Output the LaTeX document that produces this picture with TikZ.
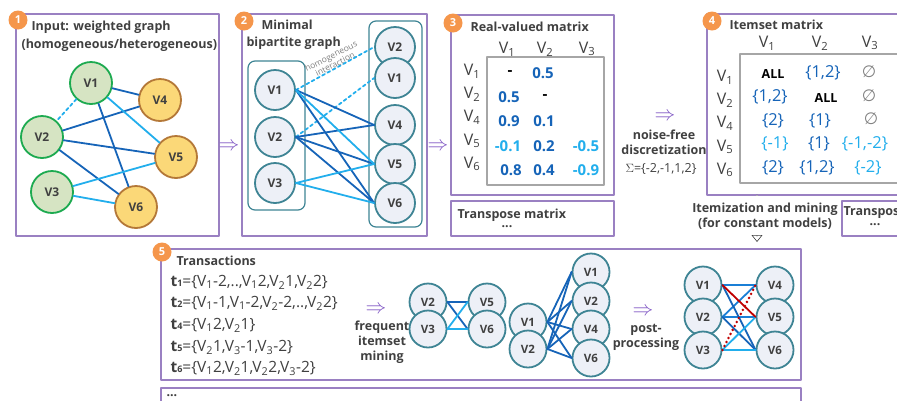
\documentclass[tikz,border=0pt]{standalone}
\usepackage{fontspec}
\setmainfont{Open Sans}
\newfontfamily\symfont{DejaVu Sans}
\usetikzlibrary{arrows.meta}

\definecolor{framepurple}{HTML}{9A80C2}
\definecolor{arrowpurple}{HTML}{8058C4}
\definecolor{badgeorange}{HTML}{F5964B}
\definecolor{textgray}{HTML}{404040}
\definecolor{greenfill}{HTML}{D6E4C3}
\definecolor{greenline}{HTML}{1DAA50}
\definecolor{yellowfill}{HTML}{FBD878}
\definecolor{brownline}{HTML}{B47838}
\definecolor{nodefill}{HTML}{EDF0F7}
\definecolor{nodeline}{HTML}{3E8494}
\definecolor{darkblue}{HTML}{1664B8}
\definecolor{midblue}{HTML}{1A7FD6}
\definecolor{lightblue}{HTML}{22AEEC}
\definecolor{darkred}{HTML}{C00000}

\newcommand{\vsub}[1]{V\textsubscript{#1}}
\newcommand{\tid}[1]{\textbf{t}{\bfseries\small #1}}

\begin{document}
\begin{tikzpicture}[
	x=1pt,
	y=-1pt,
	line join=round,
	line cap=round,
	>=latex,
	panel/.style={draw=framepurple, line width=1.6pt},
	badge/.style={circle, fill=badgeorange, text=white, inner sep=0pt,
		minimum size=19pt, font=\bfseries\fontsize{11}{11}\selectfont},
	boxtitle/.style={anchor=west, text=textgray, font=\bfseries\fontsize{12.5}{14}\selectfont},
	gnode/.style={circle, draw=greenline, fill=greenfill, line width=1.8pt,
		minimum size=42pt, inner sep=0pt, font=\bfseries\fontsize{12}{12}\selectfont, text=textgray},
	ynode/.style={gnode, draw=brownline, fill=yellowfill},
	vnode/.style={circle, draw=nodeline, fill=nodefill, line width=1.8pt,
		minimum size=40pt, inner sep=0pt, font=\bfseries\fontsize{12}{12}\selectfont, text=textgray},
	snode/.style={vnode, minimum size=37pt, font=\bfseries\fontsize{11.5}{12}\selectfont},
	grouprect/.style={draw=nodeline, line width=1.2pt, rounded corners=7pt},
	dk/.style={darkblue, line width=1.8pt},
	md/.style={midblue, line width=1.8pt},
	lt/.style={lightblue, line width=1.8pt},
	hdr/.style={text=textgray, font=\fontsize{16}{16}\selectfont},
	val/.style={font=\bfseries\fontsize{15}{15}\selectfont},
	itm/.style={font=\fontsize{16.5}{16.5}\selectfont},
	thenarrow/.style={text=arrowpurple, font=\fontsize{20}{20}\selectfont},
	note/.style={text=textgray, font=\bfseries\fontsize{12.5}{15}\selectfont, align=center},
	]
\useasboundingbox (0,0) rectangle (897,400);
\clip (0,0) rectangle (897,400);

% panel 1: input graph
\draw[panel] (16,14) rectangle (219,236);
\node[badge] (b1) at (18,20) {1};
\node[boxtitle] (t1a) at (28,27) {Input: weighted graph};
\node[boxtitle] (t1b) at (18,45) {(homogeneous/heterogeneous)};
\node[gnode] (v1) at (91,83) {V1};
\node[ynode] (v4) at (160,100) {V4};
\node[gnode] (v2) at (42,137) {V2};
\node[ynode] (v5) at (176,157) {V5};
\node[gnode] (v3) at (52,192) {V3};
\node[ynode] (v6) at (136,207) {V6};
\draw[lt, dashed] (v1) -- (v2);
\foreach \a/\b in {v1/v4, v1/v6, v2/v4, v2/v5, v2/v6}
	\draw[dk] (\a) -- (\b);
\foreach \a/\b in {v1/v5, v3/v5, v3/v6}
	\draw[lt] (\a) -- (\b);

\node[thenarrow] (g12) at (229,147) {$\Rightarrow$};

% panel 2: bipartite graph
\draw[panel] (242,14) rectangle (427,236);
\node[badge] (b2) at (244,21) {2};
\node[boxtitle] (t2a) at (258,25) {Minimal};
\node[boxtitle] (t2b) at (243,43) {bipartite graph};
\draw[grouprect] (248,61) rectangle (305,210);
\draw[grouprect] (369,21) rectangle (422,227);
\node[vnode] (l1) at (275,90) {V1};
\node[vnode] (l2) at (275,137) {V2};
\node[vnode] (l3) at (275,183) {V3};
\node[vnode] (r2) at (395,47) {V2};
\node[vnode] (r1) at (395,78) {V1};
\node[vnode] (r4) at (395,125) {V4};
\node[vnode] (r5) at (395,164) {V5};
\node[vnode] (r6) at (395,203) {V6};
\draw[lt, dashed] (l1.east) -- (r2.west);
\draw[lt, dashed] (l2.east) -- (r1.west);
\foreach \a/\b in {l1/r4, l1/r6, l2/r4, l2/r5, l2/r6}
	\draw[dk] (\a.east) -- (\b.west);
\foreach \a/\b in {l1/r5, l3/r5, l3/r6}
	\draw[lt] (\a.east) -- (\b.west);
\node[text=gray, font=\fontsize{8.5}{9}\selectfont, align=center, rotate=27]
	(homo) at (333,60) {homogeneous\\interaction};

\node[thenarrow] (g23) at (438,147) {$\Rightarrow$};

% panel 3: real-valued matrix
\draw[panel] (451,15) rectangle (614,195);
\node[badge] (b3) at (453,23) {3};
\node[boxtitle] (t3) at (467,27) {Real-valued matrix};
\draw[gray!70, line width=1.3pt] (487,57) rectangle (604,185);
\foreach \c/\x in {1/507, 2/545, 3/587}
	\node[hdr] (m3c\c) at (\x,49) {\vsub{\c}};
\foreach \r/\y in {1/71, 2/94, 4/117, 5/141, 6/164}
	\node[hdr] (m3r\r) at (472,\y) {\vsub{\r}};
\foreach \x/\y/\t/\c in {510/73/-/black, 543/73/0.5/darkblue,
		509/97/0.5/darkblue, 545/97/-/black,
		509/121/0.9/darkblue, 544/121/0.1/darkblue,
		508/146/-0.1/lightblue, 544/146/0.2/darkblue, 586/146/-0.5/lightblue,
		511/170/0.8/darkblue, 544/170/0.4/darkblue, 586/170/-0.9/lightblue}
	\node[val, text=\c] (m3-\x-\y) at (\x,\y) {\t};
\draw[panel] (451,201) rectangle (614,236);
\node[boxtitle] (t3t) at (454,215) {Transpose matrix};
\node[note] (t3d) at (507,227) {...};

% discretization
\node[thenarrow] (g34) at (665,117) {$\Rightarrow$};
\node[note] (disc) at (664,142) {noise-free\\discretization};
\node[text=textgray, font=\fontsize{12.5}{14}\selectfont] (sig) at (661,169)
	{$\Sigma$=\{-2,-1,1,2\}};

% panel 4: itemset matrix
\draw[panel] (707,14) rectangle (910,195);
\node[badge] (b4) at (712,21) {4};
\node[boxtitle] (t4) at (726,25) {Itemset matrix};
\draw[gray!70, line width=1.3pt] (740,54) rectangle (910,183);
\foreach \c/\x in {1/767, 2/820, 3/870}
	\node[hdr] (m4c\c) at (\x,43) {\vsub{\c}};
\foreach \r/\y in {1/77, 2/100, 4/123, 5/147, 6/170}
	\node[hdr] (m4r\r) at (725,\y) {\vsub{\r}};
\node[note, text=black] (a11) at (773,74) {ALL};
\node[itm, text=darkblue] (a12) at (823,73) {\{1,2\}};
\node[itm, text=gray] (a13) at (869,72) {\symfont ∅};
\node[itm, text=darkblue] (a21) at (770,97) {\{1,2\}};
\node[note, text=black] (a22) at (826,98) {ALL};
\node[itm, text=gray] (a23) at (869,96) {\symfont ∅};
\node[itm, text=darkblue] (a41) at (773,121) {\{2\}};
\node[itm, text=darkblue] (a42) at (820,121) {\{1\}};
\node[itm, text=gray] (a43) at (871,119) {\symfont ∅};
\node[itm, text=lightblue] (a51) at (775,144) {\{-1\}};
\node[itm, text=darkblue] (a52) at (819,144) {\{1\}};
\node[itm, text=lightblue] (a53) at (865,144) {\{-1,-2\}};
\node[itm, text=darkblue] (a61) at (773,168) {\{2\}};
\node[itm, text=darkblue] (a62) at (817,168) {\{1,2\}};
\node[itm, text=lightblue] (a63) at (868,168) {\{-2\}};
\draw[panel] (842,201) rectangle (910,236);
\node[boxtitle] (t4t) at (840,213) {Transpose};
\node[note] (t4d) at (875,225) {...};

% itemization
\coordinate (itemtop) at (757,196);
\coordinate (itembot) at (757,242);
\draw[textgray, double=white, double distance=1.6pt, line width=0.6pt,
	-{Triangle[open, length=7pt, width=11pt]}] (itemtop) -- (itembot);
\node[note, fill=white, inner sep=0pt] (item) at (765,216)
	{Itemization and mining\\(for constant models)};

% panel 5: transactions
\draw[panel] (161,249) rectangle (801,380);
\node[badge] (b5) at (162,252) {5};
\node[boxtitle] (t5) at (173,261) {Transactions};
\foreach \i/\y/\s in {
		1/282/{\vsub{1}-2,..,\vsub{1}2,\vsub{2}1,\vsub{2}2},
		2/303/{\vsub{1}-1,\vsub{1}-2,\vsub{2}-2,..,\vsub{2}2},
		4/325/{\vsub{1}2,\vsub{2}1},
		5/347/{\vsub{2}1,\vsub{3}-1,\vsub{3}-2},
		6/368/{\vsub{1}2,\vsub{2}1,\vsub{2}2,\vsub{3}-2}}
	\node[anchor=west, text=textgray, font=\fontsize{15.5}{15.5}\selectfont]
		(tr\i) at (167,\y) {\tid{\i}=\{\s\}};

\node[thenarrow] (g5a) at (376,310) {$\Rightarrow$};
\node[note] (freq) at (382,342) {frequent\\itemset\\mining};
\node[snode] (a2) at (428,302) {V2};
\node[snode] (a3) at (428,329) {V3};
\node[snode] (a5) at (487,302) {V5};
\node[snode] (a6) at (487,329) {V6};
\foreach \a/\b in {a2/a5, a2/a6}
	\draw[dk] (\a.east) -- (\b.west);
\foreach \a/\b in {a3/a5, a3/a6}
	\draw[lt] (\a.east) -- (\b.west);

\node[snode] (c1) at (591,272) {V1};
\node[snode] (c2) at (591,301) {V2};
\node[snode] (c4) at (591,329) {V4};
\node[snode] (c6) at (591,358) {V6};
\node[snode] (e1) at (528,322) {V1};
\node[snode] (e2) at (528,349) {V2};
\foreach \a in {e1, e2}
	\foreach \b in {c1, c2, c4, c6}
		\draw[dk] (\a.east) -- (\b.west);

\node[thenarrow] (g5b) at (643,312) {$\Rightarrow$};
\node[note] (post) at (646,337) {post-\\processing};
\node[snode] (d1) at (703,285) {V1};
\node[snode] (d2) at (703,317) {V2};
\node[snode] (d3) at (703,350) {V3};
\node[snode] (f4) at (775,285) {V4};
\node[snode] (f5) at (775,317) {V5};
\node[snode] (f6) at (775,350) {V6};
\foreach \a/\b in {d1/f4, d2/f4, d2/f5}
	\draw[md] (\a.east) -- (\b.west);
\foreach \a/\b in {d1/f6, d2/f6}
	\draw[dk] (\a.east) -- (\b.west);
\foreach \a/\b in {d3/f5, d3/f6}
	\draw[lt] (\a.east) -- (\b.west);
\draw[darkred, line width=1.8pt] (d1.east) -- (f5.west);
\draw[darkred, line width=2.8pt, dash pattern=on 0pt off 4.5pt] (d3.east) -- (f4.west);

% more transactions
\draw[panel] (161,388) rectangle (801,410);
\node[note, anchor=west] (more) at (163,396) {...};
\end{tikzpicture}
\end{document}
